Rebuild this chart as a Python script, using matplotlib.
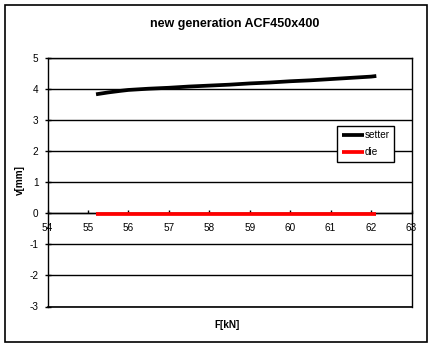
import matplotlib
matplotlib.use("Agg")
import matplotlib.pyplot as plt
from matplotlib.patches import Rectangle

plt.rcParams['font.family'] = ['Liberation Sans', 'DejaVu Sans']
plt.rcParams['axes.unicode_minus'] = False

title = "new generation ACF450x400"
xlabel = "F[kN]"
ylabel = "v[mm]"
F_setter = [55.2, 55.5, 55.8, 56.0, 56.5, 57.0, 57.5, 58.0, 58.5, 59.0, 59.5, 60.0, 60.5, 61.0, 61.5, 62.0, 62.13]
v_setter = [3.84, 3.90, 3.95, 3.98, 4.02, 4.05, 4.09, 4.12, 4.15, 4.19, 4.22, 4.26, 4.29, 4.33, 4.37, 4.41, 4.43]
F_die = [55.2, 56.0, 57.0, 58.0, 59.0, 60.0, 61.0, 62.0, 62.13]
v_die = [-0.03, -0.03, -0.03, -0.03, -0.03, -0.03, -0.03, -0.03, -0.03]
xticks = [54, 55, 56, 57, 58, 59, 60, 61, 62, 63]
yticks = [-3, -2, -1, 0, 1, 2, 3, 4, 5]

W, H = 433, 347
fig = plt.figure(figsize=(W / 100, H / 100), dpi=100)
fig.patch.set_facecolor('white')
ax = fig.add_axes([47.5 / W, 1 - 306.5 / H, (411.5 - 47.5) / W, (306.5 - 58.3) / H])

ax.plot(F_setter, v_setter, color='black', lw=2.7, label='setter', solid_capstyle='butt', zorder=3)
ax.plot(F_die, v_die, color='#ff0000', lw=2.7, label='die', solid_capstyle='butt', zorder=3)

ax.set_xlim(54, 63)
ax.set_ylim(-3, 5)
ax.set_xticks(xticks)
ax.set_yticks(yticks)
ax.yaxis.grid(True, color='black', lw=1.0)
ax.set_axisbelow(True)

ax.spines['bottom'].set_position(('data', 0))
for s in ax.spines.values():
    s.set_linewidth(1.0)
ax.axhline(-3, color='black', lw=1.2, clip_on=False)

ax.tick_params(axis='x', direction='in', length=2, pad=7, labelsize=7.2, width=1)
ax.tick_params(axis='y', direction='inout', length=5, pad=4, labelsize=7.2, width=1)

ax.legend(loc='upper left', bbox_to_anchor=(337 / W, 1 - 126 / H), bbox_transform=fig.transFigure,
          fontsize=7.2, frameon=True, fancybox=False, edgecolor='black', framealpha=1,
          handlelength=2.2, handletextpad=0.1, labelspacing=0.7, borderpad=0.45,
          borderaxespad=0)
leg = ax.get_legend()
leg.get_frame().set_linewidth(1.0)

fig.text(235 / W, 1 - 24 / H, title, ha='center', va='center', fontsize=9, fontweight='bold')
fig.text(227 / W, 1 - 325 / H, xlabel, ha='center', va='center', fontsize=7.2, fontweight='bold')
fig.text(20 / W, 1 - 180 / H, ylabel, ha='center', va='center', fontsize=7.2, fontweight='bold', rotation=90)

fig.patches.append(Rectangle((4.5 / W, 1 - 341.5 / H), 422 / W, 337 / H, transform=fig.transFigure,
                             fill=False, edgecolor='black', lw=1.2))

fig.savefig('out.png', dpi=100)
